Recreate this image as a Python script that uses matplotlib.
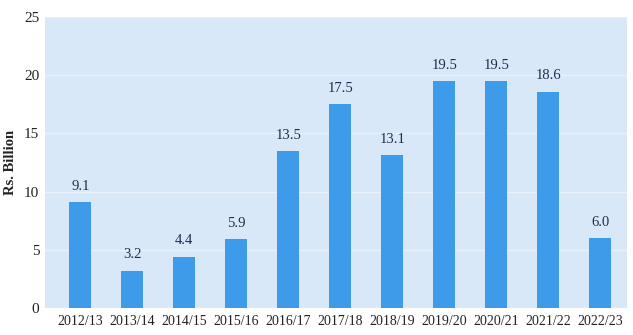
import numpy as np
import matplotlib.pyplot as plt

years = ['2012/13', '2013/14', '2014/15', '2015/16', '2016/17', '2017/18',
         '2018/19', '2019/20', '2020/21', '2021/22', '2022/23']
values = [9.1, 3.2, 4.4, 5.9, 13.5, 17.5, 13.1, 19.5, 19.5, 18.6, 6.0]

plt.rcParams['font.family'] = ['Liberation Serif', 'DejaVu Serif']

fig = plt.figure(figsize=(6.33, 3.35), dpi=100)
ax = fig.add_axes([0.071, 0.081, 0.92, 0.868])
ax.set_facecolor('#d9e8f8')

x = np.arange(len(years))
bars = ax.bar(x, values, width=0.42, color='#3d9be9', zorder=3)
for xi, v in zip(x, values):
    ax.text(xi, v + 0.8, f'{v:.1f}', ha='center', va='bottom',
            fontsize=10.5, color='#1f2d4d')

ax.set_xlim(-0.68, 10.52)
ax.set_ylim(0, 25)
ax.set_yticks(range(0, 26, 5))
ax.set_xticks(x)
ax.set_xticklabels(years, fontsize=10)
ax.tick_params(axis='both', length=0, colors='#222222')
ax.tick_params(axis='y', pad=4, labelsize=11)
ax.tick_params(axis='x', pad=5, labelsize=10)
ax.grid(axis='y', color='#e8f1fb', linewidth=1, zorder=0)
for s in ax.spines.values():
    s.set_visible(False)
ax.set_ylabel('Rs. Billion', fontsize=10.5, fontweight='bold', color='#222222', labelpad=5)

fig.savefig('out.png', dpi=100)
